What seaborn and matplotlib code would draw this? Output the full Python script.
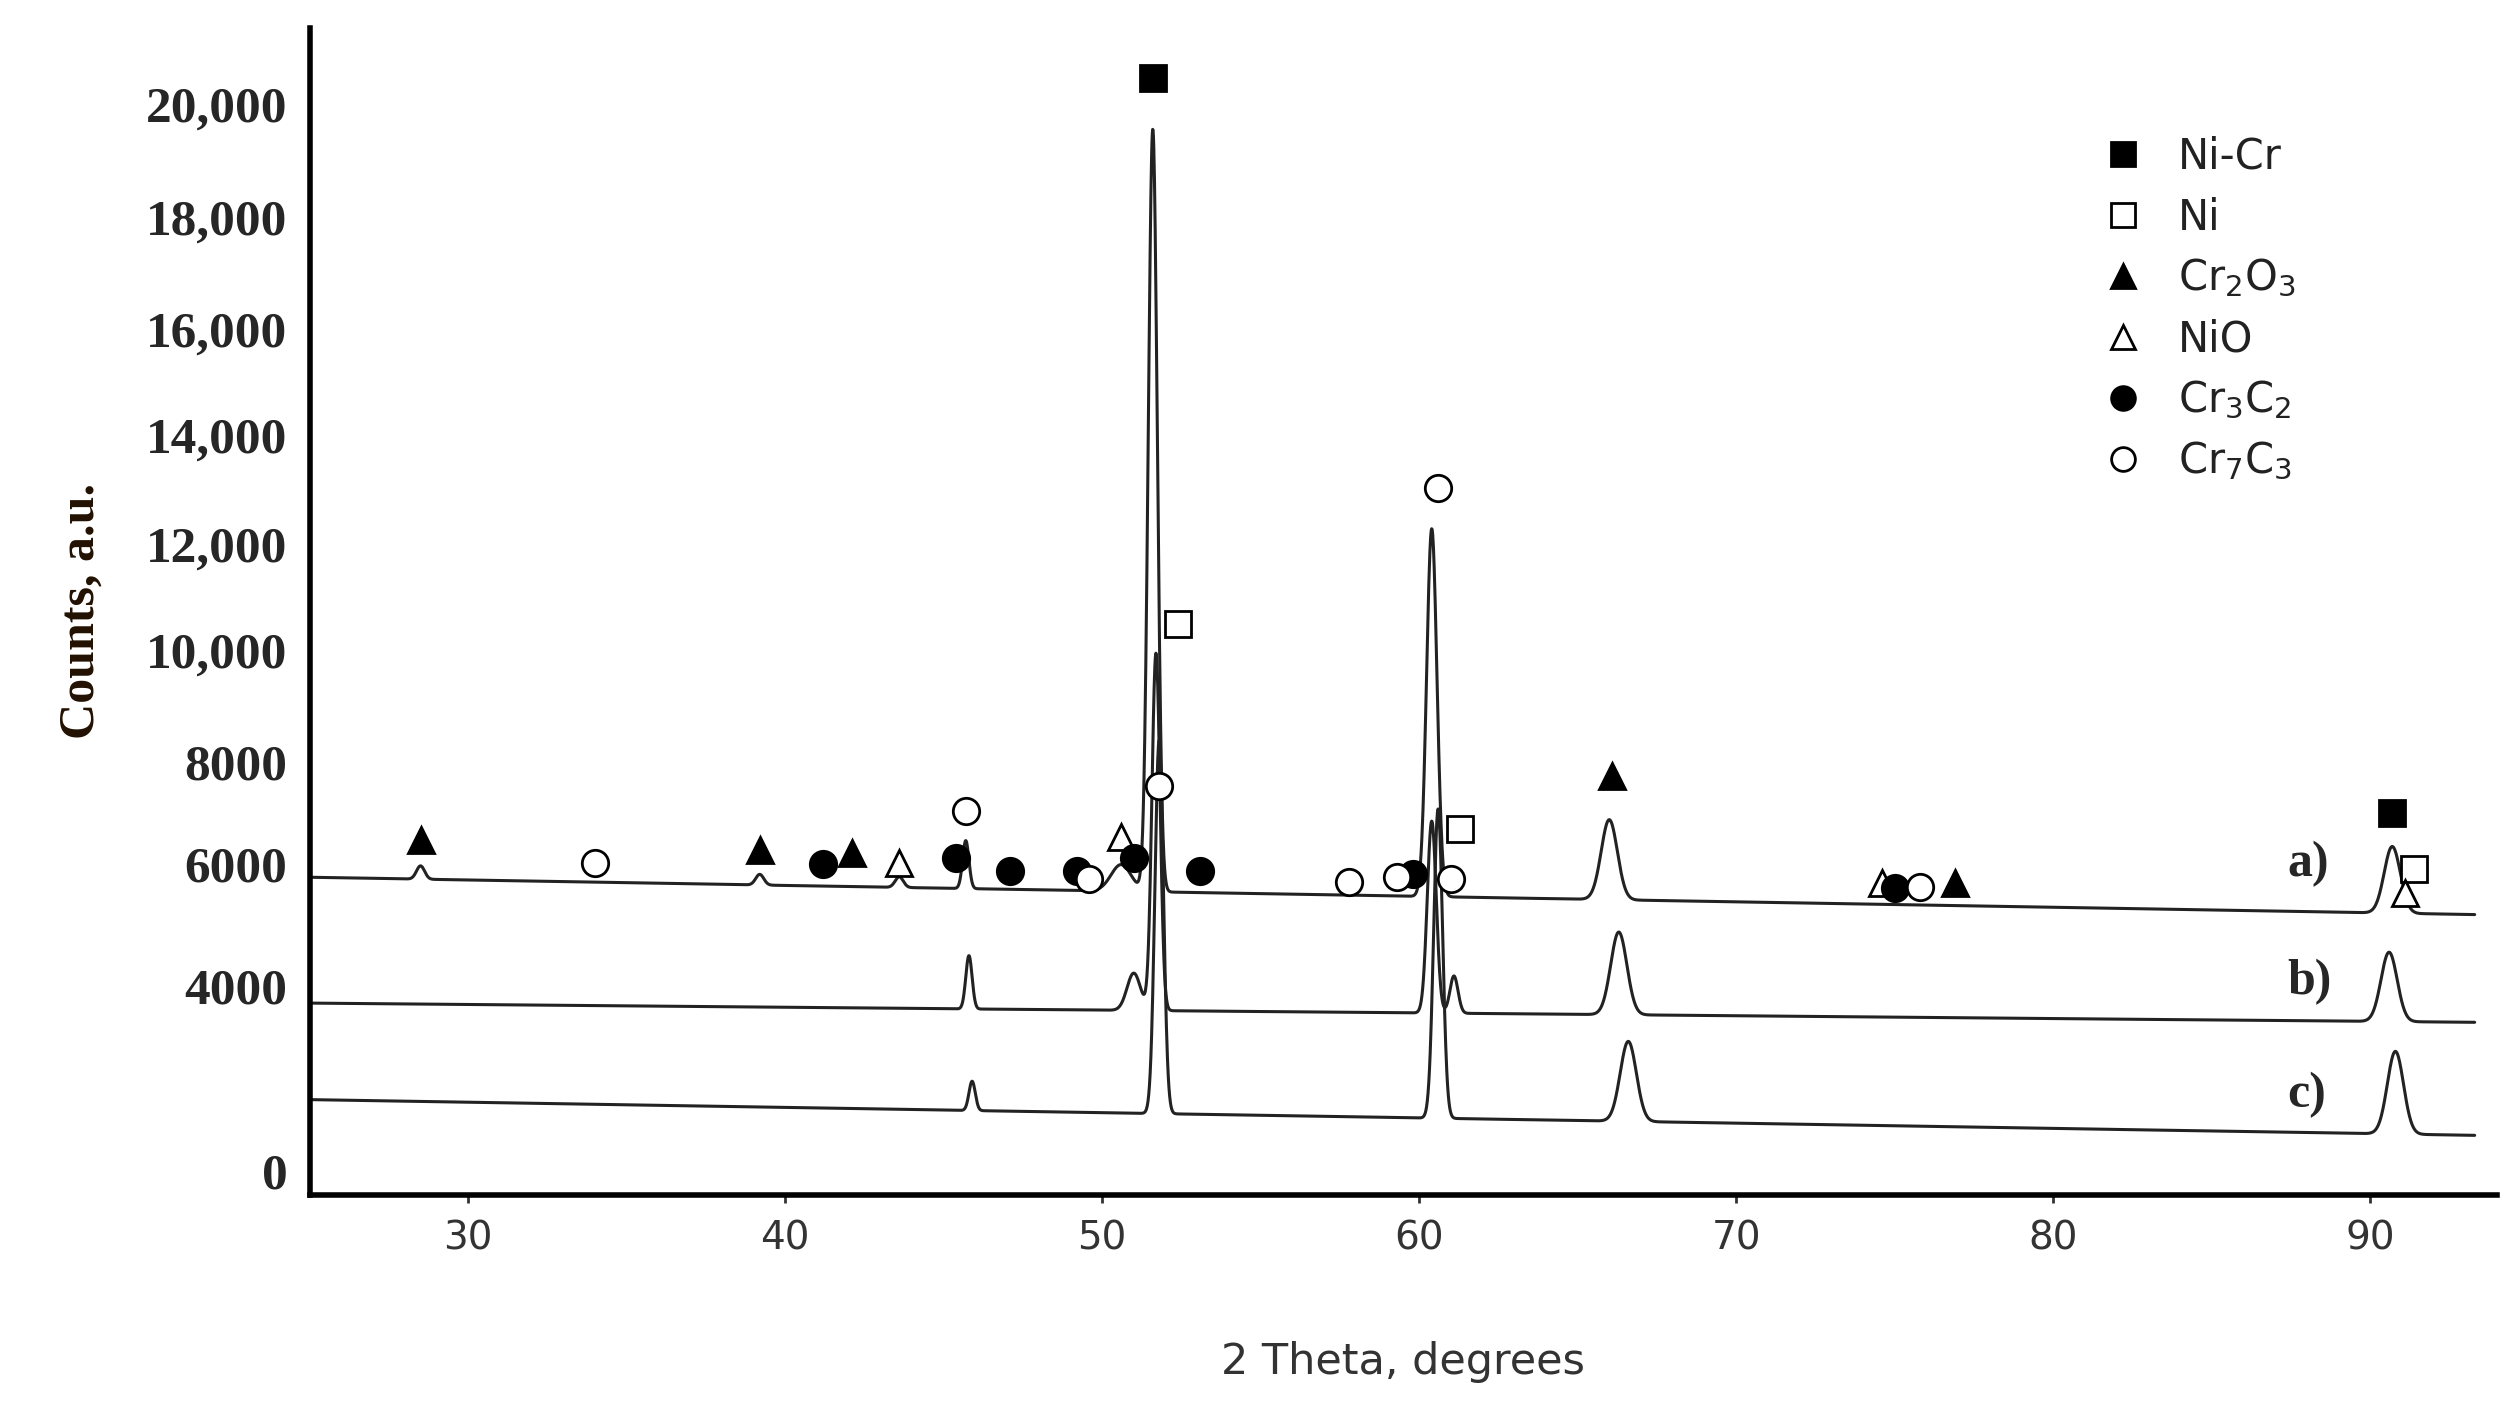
import numpy as np
import matplotlib
matplotlib.use("Agg")
import matplotlib.pyplot as plt
import seaborn as sns

# peak tables: (position 2theta, height above baseline, half width)
peaks_a = [(28.5, 250, 0.18), (39.2, 200, 0.18), (43.6, 200, 0.18), (45.7, 900, 0.14),
           (50.6, 500, 0.45), (51.6, 14300, 0.2), (60.4, 6900, 0.23), (66.0, 1500, 0.36),
           (90.7, 1250, 0.36)]
peaks_b = [(45.8, 1000, 0.14), (51.0, 700, 0.3), (51.7, 6700, 0.18), (60.4, 3600, 0.2),
           (61.1, 700, 0.18), (66.3, 1550, 0.36), (90.6, 1300, 0.36)]
peaks_c = [(45.9, 550, 0.14), (51.8, 7000, 0.19), (60.6, 5800, 0.2), (66.6, 1500, 0.36),
           (90.8, 1550, 0.36)]
base_a = (5500, 4800)
base_b = (3140, 2780)
base_c = (1330, 660)

# phase markers: x, y
nicr = [(51.6, 20480), (90.7, 6700)]
ni = [(52.4, 10240), (61.3, 6400), (91.4, 5650)]
cr2o3 = [(28.5, 6190), (39.2, 6010), (42.1, 5950), (66.1, 7400), (76.9, 5400)]
nio = [(43.6, 5770), (50.6, 6250), (74.6, 5400), (91.1, 5200)]
cr3c2 = [(41.2, 5740), (45.4, 5860), (47.1, 5620), (49.2, 5620), (51.0, 5860),
         (53.1, 5620), (59.8, 5560), (75.0, 5290)]
cr7c3 = [(34.0, 5770), (45.7, 6740), (49.6, 5470), (51.8, 7220), (57.8, 5410),
         (59.3, 5500), (60.6, 12800), (61.0, 5470), (75.8, 5320)]

ytick_pos = [0, 3470, 5740, 7670, 9760, 11750, 13800, 15770, 17880, 20000]
ytick_lab = ["0", "4000", "6000", "8000", "10,000", "12,000", "14,000", "16,000", "18,000", "20,000"]
xticks = [30, 40, 50, 60, 70, 80, 90]

sns.set_style("ticks")
fig = plt.figure(figsize=(25.17, 14.17), dpi=100)
ax = fig.add_axes([0.123, 0.157, 0.869, 0.823])

x = np.linspace(25, 93.3, 6000)


def pattern(peaks, base):
    y = base[0] + (base[1] - base[0]) * (x - x[0]) / (x[-1] - x[0])
    for p, h, w in peaks:
        y = y + h * np.exp(-((x - p) / w) ** 2)
    return y


for pk, bs in [(peaks_a, base_a), (peaks_b, base_b), (peaks_c, base_c)]:
    sns.lineplot(x=x, y=pattern(pk, bs), ax=ax, color="#222222", lw=2.2)

ms = 19
style = [("Ni-Cr", nicr, "s", "black"), ("Ni", ni, "s", "white"),
         (r"Cr$_2$O$_3$", cr2o3, "^", "black"), ("NiO", nio, "^", "white"),
         (r"Cr$_3$C$_2$", cr3c2, "o", "black"), (r"Cr$_7$C$_3$", cr7c3, "o", "white")]
for lab, pts, mk, fc in style:
    px, py = zip(*pts)
    ax.plot(px, py, ls="none", marker=mk, ms=ms, mfc=fc, mec="black", mew=2, label=lab)

for t, yy in [("a)", 5740), ("b)", 3530), ("c)", 1420)]:
    ax.text(87.4, yy, t, fontsize=36, fontweight="bold", family="Liberation Serif", va="center")

ax.set_xlim(25, 94)
ax.set_ylim(-450, 21420)
ax.set_xticks(xticks)
ax.set_yticks(ytick_pos)
ax.set_yticklabels(ytick_lab, family="Liberation Serif", fontweight="bold", fontsize=37)
ax.tick_params(axis="x", labelsize=28, width=2, length=6, colors="#333333", pad=12)
ax.tick_params(axis="y", length=0, pad=16)
for s in ["top", "right"]:
    ax.spines[s].set_visible(False)
for s in ["left", "bottom"]:
    ax.spines[s].set_linewidth(4)
    ax.spines[s].set_color("black")
ax.set_xlabel("2 Theta, degrees", fontsize=31, color="#333333", labelpad=60)
ax.set_ylabel("Counts, a.u.", fontsize=36, family="Liberation Serif", fontweight="bold",
              color="#221100", labelpad=30)

leg = ax.legend(loc="upper right", bbox_to_anchor=(0.925, 0.94), frameon=False, fontsize=30,
                handletextpad=0.3, labelspacing=0.45, markerscale=0.9)
for t in leg.get_texts():
    t.set_color("#222222")

fig.savefig("out.png", dpi=100)
